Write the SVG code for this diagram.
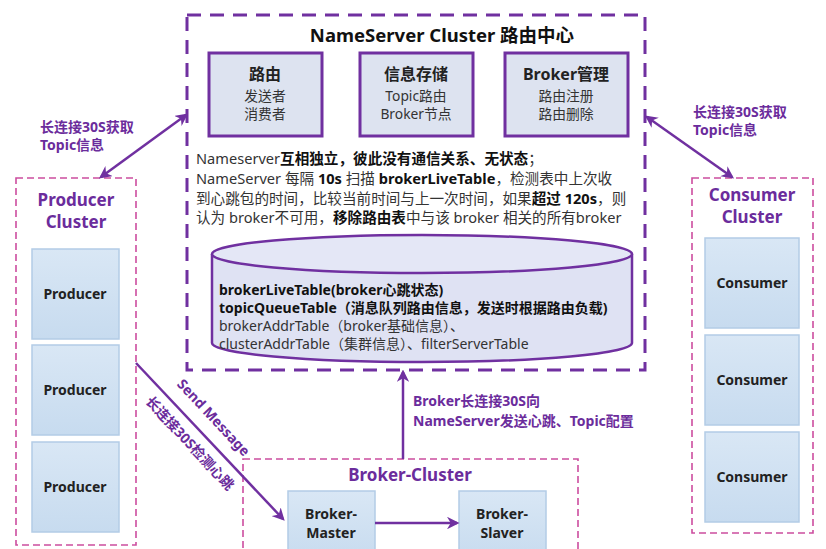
<svg xmlns="http://www.w3.org/2000/svg" width="826" height="549" viewBox="0 0 826 549">
<style>
text{font-family:"Noto Sans","Noto Sans CJK SC",sans-serif}
.ns{fill:none;stroke:#7030a0;stroke-width:3;stroke-dasharray:14 9}
.cl{fill:none;stroke:#cc4d9f;stroke-width:1.6;stroke-dasharray:7 4}
.pbox{fill:#dde3f0;stroke:#7030a0;stroke-width:3}
.node{fill:url(#bg);stroke:#b3cce6;stroke-width:1.5}
.bt{font-size:16px;font-weight:bold;fill:#222;text-anchor:middle}
.nt{font-size:14px;font-weight:bold;fill:#222;text-anchor:middle}
.st{font-size:13.8px;fill:#333;text-anchor:middle}
.ct{font-size:17px;font-weight:bold;fill:#6b2c9c;text-anchor:middle}
.lab{font-size:14px;font-weight:bold;fill:#6b2c9c}
.par{font-size:14.6px;fill:#333}
.b{font-weight:bold;fill:#111}
.tab{font-size:14px;fill:#333}
.conn{fill:none;stroke:#7030a0;stroke-width:2.5}
</style>
<defs>
<linearGradient id="bg" x1="0" y1="0" x2="0" y2="1"><stop offset="0" stop-color="#d9e7f5"/><stop offset="1" stop-color="#c7dbef"/></linearGradient>
<marker id="ah" viewBox="0 0 10 10" refX="8" refY="5" markerWidth="5" markerHeight="5" orient="auto-start-reverse" markerUnits="strokeWidth"><path d="M0,0 L10,5 L0,10 L3,5 z" fill="#7030a0"/></marker>
</defs>
<rect width="826" height="549" fill="#ffffff"/>

<g id="nameserver">
<rect class="ns" x="187" y="15" width="458" height="355"/>
<text x="442" y="42" font-size="18.5" font-weight="bold" fill="#111" text-anchor="middle">NameServer Cluster 路由中心</text>
<text class="par" x="196" y="164">Nameserver<tspan class="b">互相独立，彼此没有通信关系、无状态</tspan>；</text>
<text class="par" x="196" y="184">NameServer 每隔 <tspan class="b">10s</tspan> 扫描 <tspan class="b">brokerLiveTable</tspan>，检测表中上次收</text>
<text class="par" x="196" y="204">到心跳包的时间，比较当前时间与上一次时间，如果<tspan class="b">超过 120s</tspan>，则</text>
<text class="par" x="196" y="223">认为 broker不可用，<tspan class="b">移除路由表</tspan>中与该 broker 相关的所有broker</text>
</g>
<g id="route">
<rect class="pbox" x="209" y="53" width="113" height="83"/>
<text class="bt" x="265" y="80">路由</text>
<text class="st" x="265" y="101">发送者</text>
<text class="st" x="265" y="119">消费者</text>
</g>
<g id="storage">
<rect class="pbox" x="360" y="53" width="113" height="83"/>
<text class="bt" x="416" y="80">信息存储</text>
<text class="st" x="416" y="101">Topic路由</text>
<text class="st" x="416" y="119">Broker节点</text>
</g>
<g id="brokermgmt">
<rect class="pbox" x="505" y="53" width="123" height="83"/>
<text class="bt" x="566" y="80">Broker管理</text>
<text class="st" x="566" y="101">路由注册</text>
<text class="st" x="566" y="119">路由删除</text>
</g>
<g id="tables">
<path d="M212,254 L212,343 A210,19 0 0 0 632,343 L632,254" fill="#dfe2f3" stroke="#7030a0" stroke-width="2.5"/>
<ellipse cx="422" cy="254" rx="210" ry="19" fill="#e4e7f6" stroke="#7030a0" stroke-width="2.5"/>
<text class="tab" x="219" y="295"><tspan class="b">brokerLiveTable(broker心跳状态)</tspan></text>
<text class="tab" x="219" y="313"><tspan class="b">topicQueueTable（消息队列路由信息，发送时根据路由负载)</tspan></text>
<text class="tab" x="219" y="331">brokerAddrTable（broker基础信息）、</text>
<text class="tab" x="219" y="349">clusterAddrTable（集群信息）、filterServerTable</text>
</g>

<g id="producer-cluster">
<rect class="cl" x="16" y="178" width="120" height="367"/>
<text class="ct" x="76" y="206">Producer</text>
<text class="ct" x="76" y="228">Cluster</text>
</g>
<g id="producer1"><rect class="node" x="32" y="249" width="87" height="90"/><text class="nt" x="75" y="299">Producer</text></g>
<g id="producer2"><rect class="node" x="32" y="345" width="87" height="90"/><text class="nt" x="75" y="395">Producer</text></g>
<g id="producer3"><rect class="node" x="32" y="442" width="87" height="90"/><text class="nt" x="75" y="492">Producer</text></g>

<g id="consumer-cluster">
<rect class="cl" x="692" y="178" width="121" height="355"/>
<text class="ct" x="752" y="201">Consumer</text>
<text class="ct" x="752" y="223">Cluster</text>
</g>
<g id="consumer1"><rect class="node" x="705" y="238" width="94" height="90"/><text class="nt" x="752" y="288">Consumer</text></g>
<g id="consumer2"><rect class="node" x="705" y="335" width="94" height="90"/><text class="nt" x="752" y="385">Consumer</text></g>
<g id="consumer3"><rect class="node" x="705" y="432" width="94" height="90"/><text class="nt" x="752" y="482">Consumer</text></g>

<g id="broker-cluster">
<rect class="cl" x="243" y="459" width="335" height="100"/>
<text class="ct" x="410" y="481">Broker-Cluster</text>
</g>
<g id="broker-master"><rect class="node" x="288" y="491" width="87" height="70"/><text class="nt" x="331" y="519">Broker-</text><text class="nt" x="331" y="538">Master</text></g>
<g id="broker-slaver"><rect class="node" x="459" y="491" width="87" height="70"/><text class="nt" x="502" y="519">Broker-</text><text class="nt" x="502" y="538">Slaver</text></g>

<g id="connectors">
<line class="conn" x1="101" y1="177" x2="186" y2="115" marker-start="url(#ah)" marker-end="url(#ah)"/>
<line class="conn" x1="647" y1="117" x2="732" y2="177" marker-start="url(#ah)" marker-end="url(#ah)"/>
<line class="conn" x1="136" y1="363" x2="283" y2="519" marker-end="url(#ah)"/>
<line class="conn" x1="403" y1="459" x2="403" y2="372" marker-end="url(#ah)"/>
<line class="conn" x1="375" y1="523" x2="457" y2="523" marker-end="url(#ah)"/>
<text class="lab" x="40" y="132">长连接30S获取</text>
<text class="lab" x="40" y="150">Topic信息</text>
<text class="lab" x="693" y="117">长连接30S获取</text>
<text class="lab" x="693" y="135">Topic信息</text>
<text class="lab" x="413" y="406" font-size="15.4">Broker长连接30S向</text>
<text class="lab" x="413" y="426" font-size="15.4">NameServer发送心跳、Topic配置</text>
<text class="lab" transform="translate(210,421) rotate(47)" text-anchor="middle" font-size="15">Send Message</text>
<text class="lab" transform="translate(189,444) rotate(47)" text-anchor="middle" dominant-baseline="middle">长连接30S检测心跳</text>
</g>
</svg>
